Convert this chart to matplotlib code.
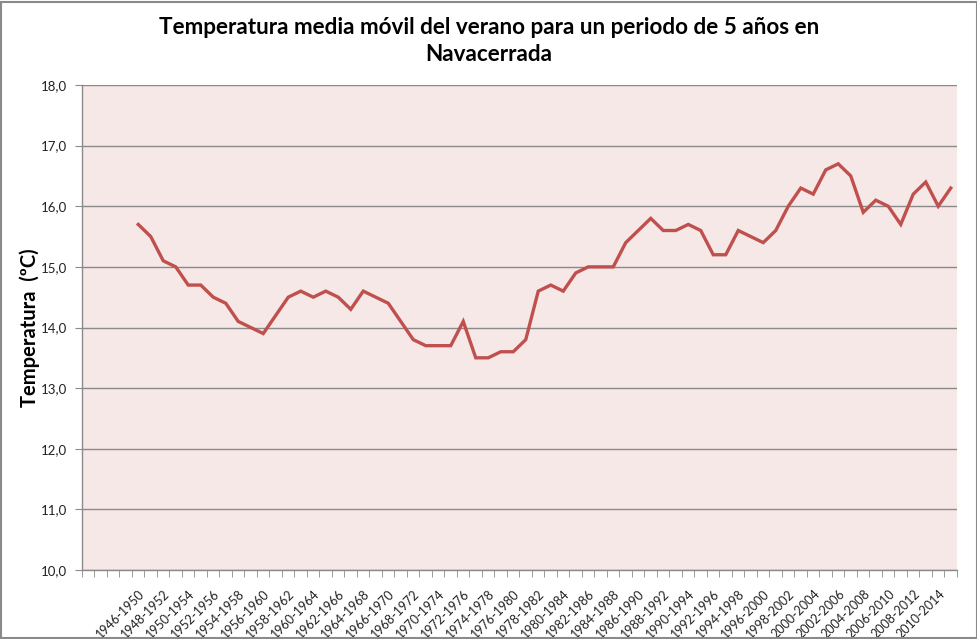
import matplotlib.pyplot as plt
from matplotlib.patches import Rectangle

# medias moviles de 5 anios (verano), desde 1946-1950 hasta 2011-2015
temps = [15.7, 15.5, 15.1, 15.0, 14.7, 14.7, 14.5, 14.4, 14.1, 14.0,
         13.9, 14.2, 14.5, 14.6, 14.5, 14.6, 14.5, 14.3, 14.6, 14.5,
         14.4, 14.1, 13.8, 13.7, 13.7, 13.7, 14.1, 13.5, 13.5, 13.6,
         13.6, 13.8, 14.6, 14.7, 14.6, 14.9, 15.0, 15.0, 15.0, 15.4,
         15.6, 15.8, 15.6, 15.6, 15.7, 15.6, 15.2, 15.2, 15.6, 15.5,
         15.4, 15.6, 16.0, 16.3, 16.2, 16.6, 16.7, 16.5, 15.9, 16.1,
         16.0, 15.7, 16.2, 16.4, 16.0, 16.3]
periodos = ["%d-%d" % (a, a + 4) for a in range(1946, 2012)]
# la hoja original tiene 4 categorias vacias delante
n_vacias = 4
categorias = [""] * n_vacias + periodos
y_ticks = [10, 11, 12, 13, 14, 15, 16, 17, 18]

plt.rcParams['font.family'] = ['Lato', 'DejaVu Sans']

fig = plt.figure(figsize=(9.78, 6.39), dpi=100)
ax = fig.add_axes([82 / 978, 1 - 570 / 639, 875 / 978, 485 / 639])
ax.set_facecolor('#f5e8e7')

xs = list(range(n_vacias, n_vacias + len(temps)))
ax.plot(xs, temps, color='#c0504d', linewidth=2.4, solid_joinstyle='miter', zorder=3)

ax.set_xlim(-0.5, len(categorias) - 0.5)
ax.set_ylim(10, 18)

ax.set_yticks(y_ticks)
ax.set_yticklabels([("%.1f" % v).replace('.', ',') for v in y_ticks],
                   fontsize=9.5, color='#222222')
ax.yaxis.grid(True, color='#8a8a8a', linewidth=1)
ax.set_axisbelow(True)

# etiquetas cada dos categorias, marcas entre categorias
lab_pos = list(range(0, len(categorias), 2))
ax.set_xticks(lab_pos)
ax.set_xticklabels([categorias[i] for i in lab_pos], rotation=45, ha='right',
                   rotation_mode='anchor', fontsize=9, color='#222222')
ax.tick_params(axis='x', which='major', length=0, pad=13)
ax.set_xticks([i - 0.5 for i in range(len(categorias) + 1)], minor=True)
ax.tick_params(axis='x', which='minor', length=5, color='#8a8a8a', direction='out')
ax.tick_params(axis='y', length=5, color='#8a8a8a', direction='out', pad=6)

for s in ['top', 'right']:
    ax.spines[s].set_visible(False)
for s in ['left', 'bottom']:
    ax.spines[s].set_color('#8a8a8a')
    ax.spines[s].set_linewidth(1)

ax.set_ylabel("Temperatura  (ºC)", fontsize=14.5, fontweight='bold')
ax.yaxis.label.set_va('center')
ax.yaxis.set_label_coords(-52 / 875, 0.5)

fig.text(0.5, 1 - 41 / 639,
         "Temperatura media móvil del verano para un periodo de 5 años en\nNavacerrada",
         ha='center', va='center', fontsize=16.2, fontweight='bold',
         linespacing=1.4)

# borde del area del grafico
fig.patches.append(Rectangle((0.0015, 0.002), 0.997, 0.995, transform=fig.transFigure,
                             fill=False, edgecolor='#8a8a8a', linewidth=1.5))

fig.savefig('out.png', dpi=100)
